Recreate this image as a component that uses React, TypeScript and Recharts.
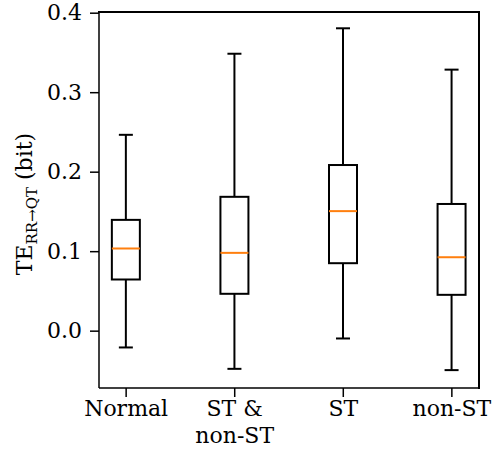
import React from "react";
import * as RC from "recharts";
import { ComposedChart, Bar, XAxis, YAxis } from "recharts";

const categories = ["Normal", "ST & non-ST", "ST", "non-ST"];
const tickLines = [["Normal"], ["ST &", "non-ST"], ["ST"], ["non-ST"]];
const positions = [1, 2, 3, 4];
const whiskerLow = [-0.0205, -0.0474, -0.0092, -0.049];
const q1 = [0.065, 0.047, 0.0855, 0.0457];
const median = [0.104, 0.0985, 0.151, 0.093];
const q3 = [0.14, 0.169, 0.209, 0.16];
const whiskerHigh = [0.247, 0.349, 0.381, 0.329];
const yTicks = [0, 0.1, 0.2, 0.3, 0.4];
const xDomain = [0.75, 4.25];
const yDomain = [-0.0715, 0.4015];

const data = categories.map((c, i) => ({
  name: c,
  x: positions[i],
  range: [whiskerLow[i], whiskerHigh[i]],
  lo: whiskerLow[i],
  q1: q1[i],
  med: median[i],
  q3: q3[i],
  hi: whiskerHigh[i],
}));

const FONT = "'DejaVu Serif', serif";
const CHART_W = 501;
const CHART_H = 460;
const MARGIN = { top: 12, right: 22, bottom: 0, left: 0 };
const Y_AXIS_W = 99;
const X_AXIS_H = 72;

const BoxShape = (props: any) => {
  const { x, y, width, height, payload } = props;
  const top = Math.min(y, y + height);
  const h = Math.abs(height);
  const { lo, hi } = payload;
  const py = (v: number) => top + ((hi - v) / (hi - lo)) * h;
  const cx = x + width / 2;
  const capHalf = width / 4;
  const sw = 2;
  return (
    <g>
      <line x1={cx} x2={cx} y1={py(hi)} y2={py(payload.q3)} stroke="#000" strokeWidth={sw} />
      <line x1={cx} x2={cx} y1={py(payload.q1)} y2={py(lo)} stroke="#000" strokeWidth={sw} />
      <line x1={cx - capHalf} x2={cx + capHalf} y1={py(hi)} y2={py(hi)} stroke="#000" strokeWidth={sw} />
      <line x1={cx - capHalf} x2={cx + capHalf} y1={py(lo)} y2={py(lo)} stroke="#000" strokeWidth={sw} />
      <rect
        x={x}
        y={py(payload.q3)}
        width={width}
        height={py(payload.q1) - py(payload.q3)}
        fill="none"
        stroke="#000"
        strokeWidth={sw}
      />
      <line x1={x} x2={x + width} y1={py(payload.med)} y2={py(payload.med)} stroke="#ff7f0e" strokeWidth={sw} />
    </g>
  );
};

const XTick = (props: any) => {
  const { x, y, payload } = props;
  const idx = positions.indexOf(payload.value);
  const lines = idx >= 0 ? tickLines[idx] : [];
  return (
    <text x={x} y={y} textAnchor="middle" style={{ fontFamily: FONT, fontSize: 22 }} fill="#000">
      {lines.map((l, i) => (
        <tspan key={i} x={x} dy={i === 0 ? 19 : 27}>
          {l}
        </tspan>
      ))}
    </text>
  );
};

const YTick = (props: any) => {
  const { x, y, payload } = props;
  return (
    <text x={x} y={y} dy={7} textAnchor="end" style={{ fontFamily: FONT, fontSize: 22 }} fill="#000">
      {Number(payload.value).toFixed(1)}
    </text>
  );
};

const YLabel = (props: any) => {
  const vb = props.viewBox || { x: 0, y: 12, width: 99, height: 376 };
  const cx = 32;
  const cy = vb.y + vb.height / 2 + 4;
  return (
    <text
      x={cx}
      y={cy}
      transform={`rotate(-90, ${cx}, ${cy})`}
      textAnchor="middle"
      style={{ fontFamily: FONT, fontSize: 22 }}
      fill="#000"
    >
      TE
      <tspan style={{ fontSize: 15 }} dy={5}>RR→QT</tspan>
      <tspan style={{ fontSize: 22 }} dy={-5}> (bit)</tspan>
    </text>
  );
};

const Frame = () => {
  const hook: any = (RC as any).usePlotArea || (RC as any).useOffset;
  const area = hook ? hook() : null;
  if (!area) return null;
  const left = area.x ?? area.left;
  const top = area.y ?? area.top;
  return (
    <g>
      <line x1={left} x2={left + area.width} y1={top} y2={top} stroke="#000" strokeWidth={2} />
      <line x1={left + area.width} x2={left + area.width} y1={top} y2={top + area.height} stroke="#000" strokeWidth={2} />
    </g>
  );
};

export default function App() {
  const plotLeft = MARGIN.left + Y_AXIS_W;
  const plotTop = MARGIN.top;
  const plotW = CHART_W - plotLeft - MARGIN.right;
  const plotH = CHART_H - plotTop - MARGIN.bottom - X_AXIS_H;
  return (
    <div style={{ position: "absolute", left: 0, top: 0, width: CHART_W, height: CHART_H, background: "#fff" }}>
      <ComposedChart width={CHART_W} height={CHART_H} data={data} margin={MARGIN}>
        <XAxis
          type="number"
          dataKey="x"
          domain={xDomain}
          ticks={positions}
          allowDataOverflow
          height={X_AXIS_H}
          tickSize={9}
          tickMargin={0}
          tick={<XTick />}
          axisLine={{ stroke: "#000", strokeWidth: 1.5 }}
          tickLine={{ stroke: "#000", strokeWidth: 1.5 }}
        />
        <YAxis
          type="number"
          domain={yDomain}
          ticks={yTicks}
          allowDataOverflow
          width={Y_AXIS_W}
          tickSize={9}
          tickMargin={8}
          tick={<YTick />}
          axisLine={{ stroke: "#000", strokeWidth: 1.5 }}
          tickLine={{ stroke: "#000", strokeWidth: 1.5 }}
          label={<YLabel />}
        />
        <Frame />
        <Bar dataKey="range" barSize={28} shape={<BoxShape />} isAnimationActive={false} />
      </ComposedChart>
      <div
        style={{
          position: "absolute",
          left: plotLeft - 1,
          top: plotTop - 1,
          width: plotW + 2,
          height: plotH + 2,
          borderTop: "2px solid #000",
          borderRight: "2px solid #000",
          boxSizing: "border-box",
          pointerEvents: "none",
        }}
      />
    </div>
  );
}
